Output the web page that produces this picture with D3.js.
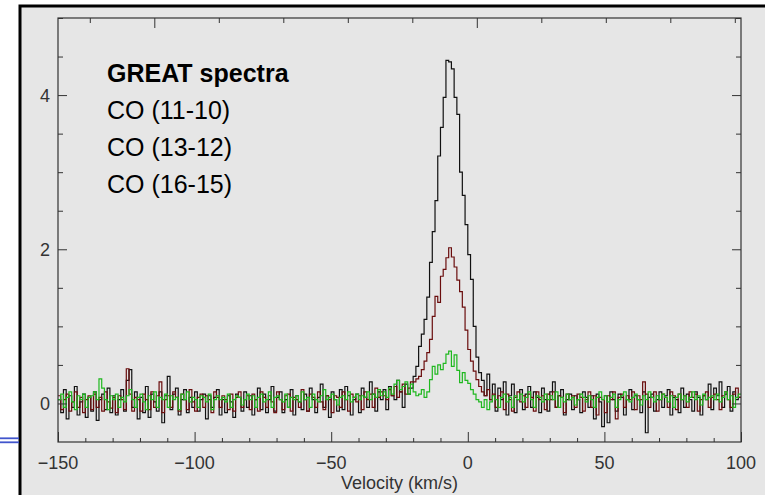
<!DOCTYPE html>
<html>
<head>
<meta charset="utf-8">
<script src="https://cdn.jsdelivr.net/npm/d3@7"></script>
<style>
  html, body { margin: 0; padding: 0; background: #fff; }
  svg { display: block; }
</style>
</head>
<body>
<div id="chart"></div>
<script>
// GREAT CO spectra, main beam temperature vs LSR velocity

// velocity grid: channel left edges, 1 km/s channels
const vStart = -150;
const chanWidth = 1;

// CO (11-10), black
const co1110 = [
  0.05, -0.12, 0.18, -0.20, 0.10, -0.05, 0.22, -0.15, 0.02, 0.12,
  -0.18, 0.08, -0.10, 0.15, -0.22, 0.05, 0.12, -0.08, 0.20, -0.12,
  0.10, -0.15, 0.05, 0.18, -0.10, 0.30, 0.44, -0.05, 0.15, -0.20,
  0.08, -0.12, 0.22, -0.18, 0.12, 0.02, -0.10, 0.15, -0.25, 0.10,
  0.35, -0.08, 0.12, 0.20, -0.15, 0.05, 0.18, -0.12, 0.08, -0.05,
  0.15, -0.10, 0.05, 0.12, -0.20, 0.10, -0.05, 0.08, 0.18, -0.15,
  0.05, -0.12, 0.10, 0.02, -0.18, 0.12, 0.08, -0.10, 0.15, -0.05,
  0.10, -0.15, 0.05, 0.20, -0.08, 0.12, -0.12, 0.05, 0.22, -0.10,
  0.08, 0.15, -0.12, 0.05, -0.05, 0.18, -0.15, 0.10, 0.02, -0.08,
  0.12, -0.10, 0.20, 0.05, -0.12, 0.08, 0.25, -0.05, 0.10, -0.18,
  0.15, 0.05, -0.10, 0.18, -0.08, 0.22, 0.10, -0.15, 0.05, 0.12,
  -0.12, 0.20, 0.08, -0.05, 0.28, 0.12, -0.10, 0.15, 0.05, 0.18,
  -0.08, 0.22, 0.10, 0.05, 0.30, 0.15, -0.05, 0.25, 0.12, 0.20,
  0.35, 0.48, 0.74, 0.90, 1.09, 1.38, 1.83, 2.23, 2.63, 3.21,
  3.58, 3.97, 4.45, 4.43, 4.34, 3.97, 3.75, 3.00, 2.70, 2.32,
  1.93, 1.61, 1.00, 0.60, 0.40, 0.30, 0.10, 0.38, 0.05, 0.25,
  -0.10, 0.20, 0.05, 0.28, -0.15, 0.10, 0.25, -0.12, 0.05, 0.18,
  -0.08, 0.12, 0.22, -0.05, 0.15, 0.08, -0.12, 0.20, 0.05, -0.10,
  0.15, 0.28, -0.05, 0.10, 0.18, -0.15, 0.05, 0.12, -0.08, 0.10,
  0.05, -0.12, 0.15, 0.08, -0.05, 0.10, -0.20, 0.12, 0.02, -0.30,
  0.10, -0.25, 0.15, 0.05, -0.10, 0.12, 0.08, -0.15, 0.05, 0.18,
  -0.08, 0.10, 0.05, -0.12, 0.15, -0.38, 0.08, 0.12, -0.10, 0.05,
  0.15, -0.05, 0.10, 0.18, -0.15, 0.08, 0.05, -0.12, 0.20, -0.05,
  0.12, 0.05, -0.10, 0.15, 0.08, -0.15, 0.10, 0.05, 0.25, -0.08,
  0.20, 0.10, 0.28, -0.05, 0.12, 0.22, -0.10, 0.15, 0.05, 0.08,
];

// CO (13-12), dark red
const co1312 = [
  0.10, -0.08, 0.05, 0.12, -0.10, 0.02, 0.15, -0.05, 0.08, -0.12,
  0.05, 0.10, -0.08, 0.12, -0.05, 0.08, -0.10, 0.15, 0.02, -0.06,
  0.08, -0.12, 0.10, 0.05, -0.08, 0.45, 0.12, -0.10, 0.08, 0.05,
  -0.10, 0.12, 0.05, -0.08, 0.15, -0.05, 0.10, 0.28, -0.12, 0.05,
  0.10, -0.05, 0.15, 0.08, -0.10, 0.12, 0.05, -0.08, 0.18, 0.02,
  -0.10, 0.08, 0.12, -0.05, 0.10, 0.05, -0.12, 0.15, 0.08, -0.05,
  0.10, 0.05, -0.08, 0.12, -0.10, 0.08, 0.15, -0.05, 0.05, 0.10,
  -0.08, 0.12, 0.05, -0.10, 0.15, 0.08, -0.05, 0.10, 0.02, -0.12,
  0.15, 0.05, -0.08, 0.10, 0.12, -0.10, 0.08, 0.05, -0.05, 0.18,
  0.05, -0.10, 0.12, 0.08, -0.05, 0.15, 0.02, -0.08, 0.10, 0.05,
  -0.12, 0.10, 0.08, -0.05, 0.15, 0.05, -0.10, 0.12, 0.08, 0.02,
  0.10, -0.08, 0.15, 0.05, 0.12, -0.05, 0.20, 0.08, 0.15, 0.10,
  0.05, 0.18, 0.10, 0.22, 0.08, 0.15, 0.25, 0.12, 0.20, 0.28,
  0.28, 0.32, 0.35, 0.44, 0.55, 0.66, 0.83, 1.13, 1.39, 1.31,
  1.65, 1.74, 1.89, 2.02, 1.90, 1.77, 1.60, 1.45, 1.25, 0.95,
  0.70, 0.55, 0.42, 0.31, 0.22, 0.15, 0.10, 0.18, 0.05, 0.12,
  -0.05, 0.10, 0.15, -0.08, 0.12, 0.05, -0.10, 0.08, 0.15, 0.02,
  0.10, -0.05, 0.12, 0.08, -0.10, 0.15, 0.05, 0.10, -0.08, 0.12,
  0.05, 0.15, -0.05, 0.10, 0.08, -0.12, 0.12, 0.05, 0.10, -0.05,
  0.12, 0.08, -0.10, 0.05, 0.15, -0.05, 0.10, -0.15, 0.08, 0.05,
  -0.12, 0.10, 0.05, 0.15, -0.20, 0.08, 0.12, -0.05, 0.10, 0.05,
  0.15, -0.08, 0.10, 0.05, 0.28, 0.12, -0.05, 0.08, 0.15, -0.10,
  0.05, 0.12, 0.08, -0.05, 0.15, 0.10, -0.08, 0.12, 0.05, 0.10,
  -0.05, 0.15, 0.08, 0.12, -0.10, 0.05, 0.10, 0.15, -0.05, 0.08,
  0.12, 0.05, -0.08, 0.10, 0.15, 0.05, -0.05, 0.12, 0.20, 0.08,
];

// CO (16-15), green
const co1615 = [
  0.05, 0.12, -0.05, 0.08, 0.15, 0.02, -0.08, 0.10, 0.05, 0.12,
  -0.05, 0.08, 0.10, 0.15, 0.05, 0.32, 0.20, 0.05, -0.08, 0.10,
  0.05, 0.12, -0.05, 0.08, 0.02, 0.10, 0.18, 0.05, -0.05, 0.08,
  0.12, 0.02, -0.08, 0.10, 0.05, 0.15, -0.05, 0.08, 0.05, 0.12,
  -0.05, 0.10, 0.05, 0.08, -0.08, 0.12, 0.05, 0.15, 0.02, 0.08,
  0.05, -0.05, 0.10, 0.08, 0.02, 0.12, -0.08, 0.05, 0.10, 0.05,
  0.08, 0.02, 0.12, -0.05, 0.05, 0.10, 0.08, -0.02, 0.05, 0.12,
  0.05, 0.10, -0.05, 0.08, 0.12, 0.02, 0.05, 0.15, -0.05, 0.08,
  0.10, 0.05, 0.02, 0.12, -0.05, 0.08, 0.05, 0.10, 0.02, 0.15,
  0.05, 0.08, -0.05, 0.12, 0.05, 0.02, 0.10, 0.18, 0.05, 0.08,
  0.12, 0.05, -0.02, 0.08, 0.10, 0.05, 0.15, 0.02, 0.08, 0.12,
  0.05, 0.10, 0.08, 0.15, 0.05, 0.12, 0.08, 0.18, 0.10, 0.15,
  0.08, 0.20, 0.12, 0.25, 0.30, 0.18, 0.22, 0.28, 0.12, 0.25,
  0.15, 0.10, 0.12, 0.18, 0.08, 0.15, 0.31, 0.48, 0.38, 0.50,
  0.44, 0.52, 0.64, 0.68, 0.48, 0.63, 0.43, 0.27, 0.40, 0.30,
  0.26, 0.18, 0.12, 0.05, 0.02, -0.05, 0.05, -0.08, 0.02, 0.10,
  0.05, -0.05, 0.08, 0.12, 0.02, 0.08, -0.05, 0.10, 0.05, 0.12,
  0.02, 0.08, 0.15, 0.05, -0.05, 0.10, 0.08, 0.02, 0.12, 0.05,
  0.10, 0.05, 0.15, -0.05, 0.08, 0.02, 0.12, 0.05, 0.08, -0.02,
  0.05, 0.12, 0.08, 0.02, 0.10, 0.05, -0.05, 0.08, 0.15, 0.05,
  0.10, 0.02, 0.08, 0.12, -0.05, 0.05, 0.10, 0.15, 0.05, 0.02,
  0.08, 0.12, 0.05, -0.02, 0.10, 0.05, 0.15, 0.08, 0.02, 0.10,
  0.05, 0.12, 0.08, 0.02, 0.10, -0.05, 0.08, 0.12, 0.05, 0.10,
  0.02, 0.08, 0.15, 0.05, 0.10, -0.02, 0.12, 0.05, 0.08, 0.10,
  0.05, 0.12, 0.02, 0.08, 0.15, 0.05, 0.10, -0.05, 0.08, 0.12,
];

const seriesNames = ['CO (11-10)', 'CO (13-12)', 'CO (16-15)'];
const seriesColors = ['#111111', '#6a0d0d', '#1fb81f'];
const legendTitle = 'GREAT spectra';

const xDomain = [-150, 100];
const yDomain = [-0.5, 5];
const xMajorTicks = [-150, -100, -50, 0, 50, 100];
const yMajorTicks = [0, 2, 4];
// top axis is in another unit (unlabelled), major every 5
const topDomain = [-1.493, 9.096];

const W = 765;
const H = 495;
const margin = { top: 18, right: 24, bottom: 53, left: 58 };
const width = W - margin.left - margin.right;
const height = H - margin.top - margin.bottom;

const svg = d3.select('#chart')
  .append('svg')
  .attr('width', W)
  .attr('height', H);

// slide background + frame
svg.append('rect')
  .attr('x', 20).attr('y', 6)
  .attr('width', W).attr('height', H)
  .attr('fill', '#e6e6e6')
  .attr('stroke', '#000')
  .attr('stroke-width', 3);

// blue double rule at the left slide edge
[438.3, 442.3].forEach(yy => {
  svg.append('line')
    .attr('x1', 0).attr('x2', 19)
    .attr('y1', yy).attr('y2', yy)
    .attr('stroke', '#4155cc')
    .attr('stroke-width', 1.8);
});

const g = svg.append('g')
  .attr('transform', `translate(${margin.left}, ${margin.top})`);

const x = d3.scaleLinear().domain(xDomain).range([0, width]);
const y = d3.scaleLinear().domain(yDomain).range([height, 0]);
const xTop = d3.scaleLinear().domain(topDomain).range([0, width]);

g.append('clipPath')
  .attr('id', 'plot-clip')
  .append('rect')
  .attr('width', width)
  .attr('height', height);

// spectra as histograms
const line = d3.line()
  .x(d => x(d.v))
  .y(d => y(d.t))
  .curve(d3.curveStepAfter);

[co1110, co1312, co1615].forEach((vals, k) => {
  const pts = vals.map((t, i) => ({ v: vStart + i * chanWidth, t }));
  pts.push({ v: vStart + vals.length * chanWidth, t: vals[vals.length - 1] });
  g.append('path')
    .datum(pts)
    .attr('clip-path', 'url(#plot-clip)')
    .attr('fill', 'none')
    .attr('stroke', seriesColors[k])
    .attr('stroke-width', 1.2)
    .attr('d', line);
});

// axes
const tickColor = '#333';
const minorX = d3.range(xDomain[0], xDomain[1] + 1, 10).filter(v => !xMajorTicks.includes(v));
const minorY = d3.range(0, yDomain[1] + 0.01, 0.5).filter(v => !yMajorTicks.includes(v));

const styleAxis = sel => {
  sel.select('.domain').remove();
  sel.selectAll('line').attr('stroke', tickColor).attr('stroke-width', 1);
};

// bottom
g.append('g')
  .attr('transform', `translate(0, ${height})`)
  .call(d3.axisTop(x).tickValues(minorX).tickSize(4).tickFormat(''))
  .call(styleAxis);
g.append('g')
  .attr('transform', `translate(0, ${height})`)
  .call(d3.axisTop(x).tickValues(xMajorTicks).tickSize(10).tickFormat(''))
  .call(styleAxis);

g.append('g')
  .selectAll('text')
  .data(xMajorTicks)
  .join('text')
  .attr('x', d => x(d))
  .attr('y', height + 27)
  .attr('text-anchor', 'middle')
  .attr('font-family', 'Liberation Sans, Arial, sans-serif')
  .attr('font-size', 18)
  .attr('fill', '#333')
  .text(d => d3.format('')(d));

// top
const topAll = d3.range(Math.ceil(topDomain[0]), Math.floor(topDomain[1]) + 1);
g.append('g')
  .call(d3.axisBottom(xTop).tickValues(topAll.filter(v => v % 5 !== 0)).tickSize(5).tickFormat(''))
  .call(styleAxis);
g.append('g')
  .call(d3.axisBottom(xTop).tickValues(topAll.filter(v => v % 5 === 0)).tickSize(10).tickFormat(''))
  .call(styleAxis);

// left & right
[[d3.axisRight, 0], [d3.axisLeft, width]].forEach(([ax, tx]) => {
  g.append('g')
    .attr('transform', `translate(${tx}, 0)`)
    .call(ax(y).tickValues(minorY).tickSize(5).tickFormat(''))
    .call(styleAxis);
  g.append('g')
    .attr('transform', `translate(${tx}, 0)`)
    .call(ax(y).tickValues(yMajorTicks).tickSize(9).tickFormat(''))
    .call(styleAxis);
});

g.append('g')
  .selectAll('text')
  .data(yMajorTicks)
  .join('text')
  .attr('x', -8)
  .attr('y', d => y(d))
  .attr('dy', '0.36em')
  .attr('text-anchor', 'end')
  .attr('font-family', 'Liberation Sans, Arial, sans-serif')
  .attr('font-size', 18)
  .attr('fill', '#333')
  .text(d => d);

// plot frame
g.append('rect')
  .attr('width', width)
  .attr('height', height)
  .attr('fill', 'none')
  .attr('stroke', '#333')
  .attr('stroke-width', 1.2);

// axis title
g.append('text')
  .attr('x', width / 2)
  .attr('y', height + 47)
  .attr('text-anchor', 'middle')
  .attr('font-family', 'Liberation Sans, Arial, sans-serif')
  .attr('font-size', 18)
  .attr('fill', '#333')
  .text('Velocity (km/s)');

// legend text block
const legend = svg.append('g')
  .attr('font-family', 'Liberation Sans, Arial, sans-serif')
  .attr('fill', '#000');

legend.append('text')
  .attr('x', 107)
  .attr('y', 81.5)
  .attr('font-size', 25)
  .attr('font-weight', 'bold')
  .text(legendTitle);

legend.selectAll('.entry')
  .data(seriesNames)
  .join('text')
  .attr('class', 'entry')
  .attr('x', 107)
  .attr('y', (d, i) => 119 + i * 37.2)
  .attr('font-size', 25)
  .text(d => d);
</script>
</body>
</html>
